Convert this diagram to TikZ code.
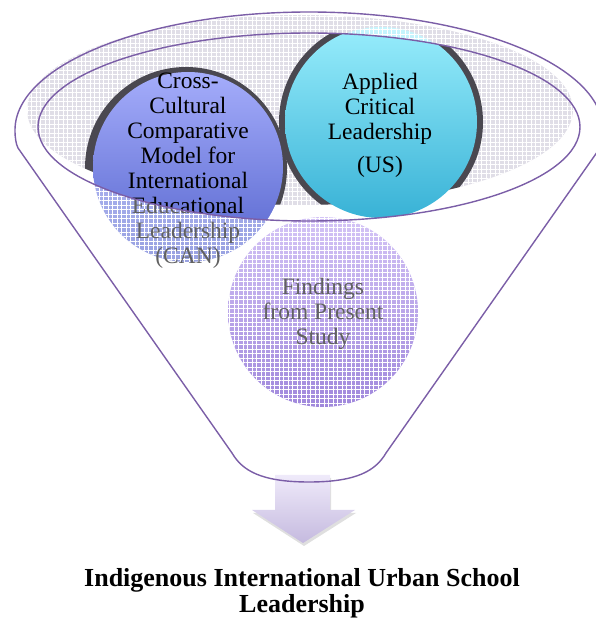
\documentclass[tikz,border=0pt]{standalone}
\usepackage{fontspec}
\setmainfont{Liberation Serif}
\usetikzlibrary{patterns.meta, shadows}

\definecolor{FunnelPurple}{HTML}{7B5EA7}
\definecolor{MouthGray}{HTML}{E0DEE7}
\definecolor{RimDark}{HTML}{4A4850}
\definecolor{CanTop}{HTML}{A5ADFB}
\definecolor{CanBot}{HTML}{5564CD}
\definecolor{UsTop}{HTML}{98EDFC}
\definecolor{UsBot}{HTML}{38B2D6}
\definecolor{StudyTop}{HTML}{D4C4F6}
\definecolor{StudyBot}{HTML}{A088DC}
\definecolor{ArrowTop}{HTML}{EFEAFA}
\definecolor{ArrowBot}{HTML}{C5BADF}

\tikzset{
  bubble/.style={circle, minimum size=190pt, inner sep=0pt},
  bubbletext/.style={align=center, font=\fontsize{23.5}{25}\selectfont},
  gridveil/.style={
    postaction={pattern={Lines[angle=0, distance=4.5pt, line width=0.6pt]}, pattern color=white},
    postaction={pattern={Lines[angle=90, distance=4.5pt, line width=0.6pt]}, pattern color=white}},
  funnel/.style={draw=FunnelPurple, line width=1.4pt}
}

\begin{document}
\begin{tikzpicture}[x=1pt, y=1pt]
    \useasboundingbox (0,0) rectangle (595,619);

    % Mouth of the funnel (grey inside)
    \fill[MouthGray, gridveil] (300,509) ellipse [x radius=273, y radius=95];

    % Faded circles, seen through the funnel
    \node[bubble, top color=CanTop!80!white, bottom color=CanBot!60!white, gridveil] (canBack) at (188,452) {};
    \node[bubble, top color=UsTop!55!white, bottom color=UsBot!45!white, gridveil] (usBack) at (381,497) {};
    \node[bubble, top color=StudyTop, bottom color=StudyBot, gridveil] (study) at (323,307) {};
    \node[bubbletext, text=black!62] (canBackText) at (188,448)
        {Cross-\\Cultural\\Comparative\\Model for\\International\\Educational\\Leadership\\(CAN)};
    \node[bubbletext, text=black!62] (studyText) at (323,305.5) {Findings\\from Present\\Study};

    % Circles inside the rim
    \begin{scope}
        \clip (309,492) ellipse [x radius=271, y radius=94];
        \begin{scope}
            \clip (300,509) ellipse [x radius=273, y radius=95];
            \fill[RimDark] (186,451) circle (101);
            \fill[RimDark] (381,497) circle (102);
        \end{scope}
        \node[bubble, top color=CanTop, bottom color=CanBot] (can) at (188,452) {};
        \node[bubble, minimum size=192pt, top color=UsTop, bottom color=UsBot] (us) at (381,497) {};
        \node[bubbletext] (canText) at (188,448)
            {Cross-\\Cultural\\Comparative\\Model for\\International\\Educational\\Leadership\\(CAN)};
        \node[bubbletext] (usText) at (380,494) {Applied\\Critical\\Leadership\\[8pt](US)};
    \end{scope}

    % Arrow out of the funnel
    \path[top color=ArrowTop, bottom color=ArrowBot,
          drop shadow={opacity=0.25, shadow xshift=1pt, shadow yshift=-3pt}]
        (275,144) -- (330,144) -- (330,109) -- (355,109) -- (303,76)
        -- (252,109) -- (275,109) -- cycle;

    % Funnel outline
    \draw[funnel] (15,489) arc [start angle=180, end angle=0, x radius=294, y radius=118]
        .. controls (603,481) and (602,475) .. (600,471) -- (386,166)
        .. controls (376,149) and (358,137) .. (309,137)
        .. controls (260,137) and (242,149) .. (232,166) -- (18,471)
        .. controls (16,475) and (15,481) .. cycle;
    \draw[funnel] (309,492) ellipse [x radius=271, y radius=94];

    % Result
    \node[font=\bfseries\fontsize{26}{26}\selectfont, align=center] (result) at (302,25.5)
        {Indigenous International Urban School\\Leadership};
\end{tikzpicture}
\end{document}
